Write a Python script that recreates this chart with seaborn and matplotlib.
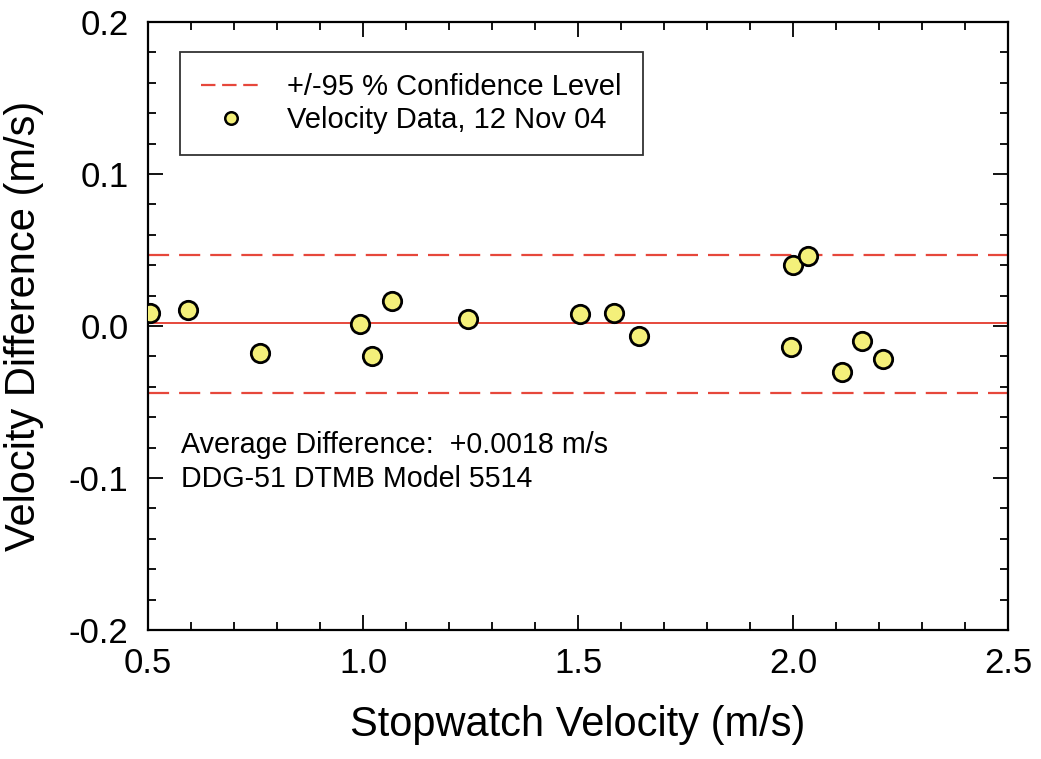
import matplotlib
matplotlib.use("Agg")
import matplotlib.pyplot as plt
from matplotlib.ticker import MultipleLocator, FormatStrFormatter
from matplotlib.lines import Line2D
import seaborn as sns
import pandas as pd

stopwatch_velocity = [0.505, 0.593, 0.760, 0.993, 1.021, 1.067, 1.244, 1.505, 1.584,
                      1.642, 2.000, 2.035, 1.995, 2.114, 2.160, 2.209]
velocity_difference = [0.0086, 0.0105, -0.0176, 0.0015, -0.0195, 0.0167, 0.0046, 0.0077,
                       0.0088, -0.0066, 0.0402, 0.0463, -0.0136, -0.0305, -0.0101, -0.0219]
average_difference = 0.0018
upper_conf = 0.0467
lower_conf = -0.0443

df = pd.DataFrame({"x": stopwatch_velocity, "y": velocity_difference})

sns.set_theme(style="white")
plt.rcParams['font.family'] = ['Liberation Sans', 'DejaVu Sans']
plt.rcParams['text.color'] = 'black'
plt.rcParams['axes.labelcolor'] = 'black'
plt.rcParams['xtick.color'] = 'black'
plt.rcParams['ytick.color'] = 'black'

fig = plt.figure(figsize=(10.41, 7.59), dpi=100)
ax = fig.add_axes([0.1422, 0.170, 0.8261, 0.801])

red = "#e6473b"
ax.axhline(upper_conf, color=red, lw=1.6, dashes=(9.5, 4.5))
ax.axhline(lower_conf, color=red, lw=1.6, dashes=(9.5, 4.5))
ax.axhline(average_difference, color=red, lw=1.4)

sns.scatterplot(data=df, x="x", y="y", ax=ax, s=175, color="#f4f07a",
                edgecolor="black", linewidth=2.0, zorder=5, legend=False)

ax.set_xlim(0.5, 2.5)
ax.set_ylim(-0.2, 0.2)
ax.xaxis.set_major_locator(MultipleLocator(0.5))
ax.xaxis.set_minor_locator(MultipleLocator(0.1))
ax.yaxis.set_major_locator(MultipleLocator(0.1))
ax.yaxis.set_minor_locator(MultipleLocator(0.02))
ax.xaxis.set_major_formatter(FormatStrFormatter("%.1f"))
ax.yaxis.set_major_formatter(FormatStrFormatter("%.1f"))
ax.tick_params(which="both", direction="in", top=True, right=True, bottom=True, left=True,
               color="black", width=1.3)
ax.tick_params(which="major", length=11, labelsize=25)
ax.tick_params(axis="x", which="major", pad=12)
ax.tick_params(axis="y", which="major", pad=14)
ax.tick_params(which="minor", length=5.5)
for sp in ax.spines.values():
    sp.set_color("black")
    sp.set_linewidth(1.6)

ax.set_xlabel("Stopwatch Velocity (m/s)", fontsize=30, labelpad=18)
ax.set_ylabel("Velocity Difference (m/s)", fontsize=30, labelpad=18)

handles = [Line2D([], [], color=red, lw=1.6, dashes=(6.5, 3)),
           Line2D([], [], marker="o", ls="none", markersize=9, markerfacecolor="#f4f07a",
                  markeredgecolor="black", markeredgewidth=1.8)]
leg = ax.legend(handles, ["+/-95 % Confidence Level", "Velocity Data, 12 Nov 04"],
                loc="upper left", bbox_to_anchor=(0.0372, 0.9507), borderaxespad=0,
                fontsize=21, frameon=True, fancybox=False, edgecolor="black",
                handlelength=2.05, handletextpad=0.9, borderpad=0.72, labelspacing=0.18)
leg.get_frame().set_linewidth(1.3)

ax.text(0.038, 0.2911, "Average Difference:  +0.0018 m/s",
        transform=ax.transAxes, fontsize=20.6, va="baseline", ha="left")
ax.text(0.038, 0.2352, "DDG-51 DTMB Model 5514",
        transform=ax.transAxes, fontsize=20.6, va="baseline", ha="left")

fig.savefig("out.png", dpi=100)
